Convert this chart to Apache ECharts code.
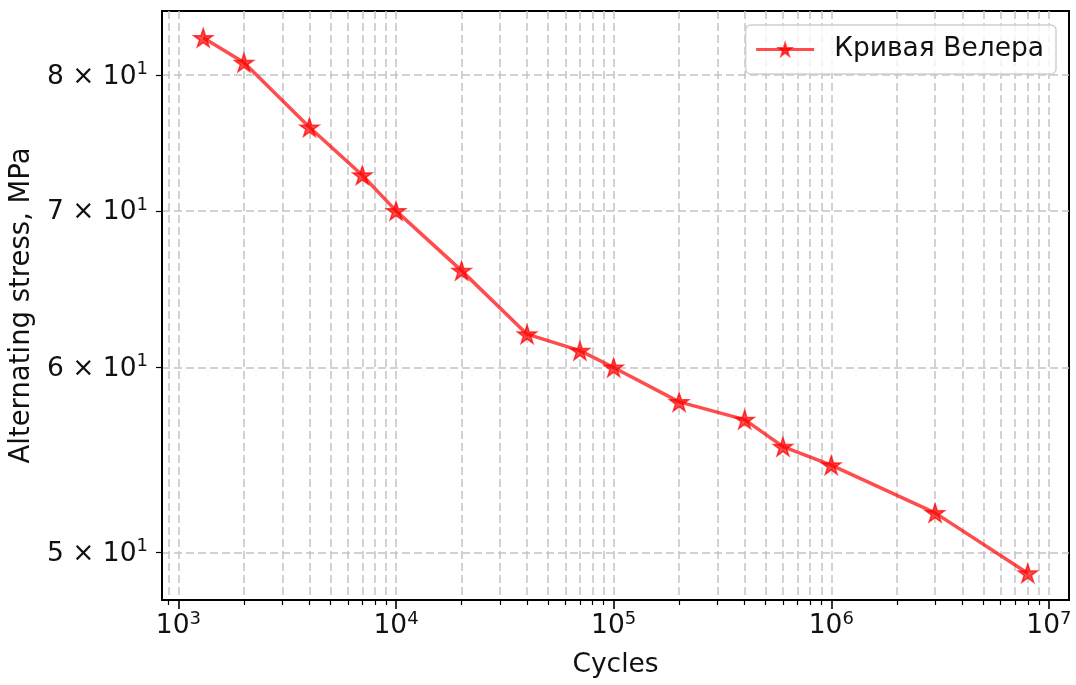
<!DOCTYPE html>
<html><head><meta charset="utf-8">
<script src="https://cdn.jsdelivr.net/npm/echarts@6/dist/echarts.min.js"></script>
<style>html,body{margin:0;padding:0;background:#fff}#c{width:1076px;height:685px}</style>
</head><body><div id="c"></div>
<script>
const cycles = [1300, 2000, 4000, 7000, 10000, 20000, 40000, 70000, 100000, 200000, 400000, 600000, 1000000, 3000000, 8000000];
const stress = [83, 81, 76, 72.5, 70, 66, 62, 61, 60, 58, 57, 55.5, 54.5, 52, 49];
const seriesName = 'Кривая Велера';
const xMajorTicks = [1e3, 1e4, 1e5, 1e6, 1e7];
const xMinorTicks = [900,
  2000, 3000, 4000, 5000, 6000, 7000, 8000, 9000,
  20000, 30000, 40000, 50000, 60000, 70000, 80000, 90000,
  200000, 300000, 400000, 500000, 600000, 700000, 800000, 900000,
  2000000, 3000000, 4000000, 5000000, 6000000, 7000000, 8000000, 9000000];
const yTicks = [50, 60, 70, 80];
const xTitle = 'Cycles';
const yTitle = 'Alternating stress, MPa';

function logPad(arr, frac) {
  const lo = Math.log10(Math.min(...arr)), hi = Math.log10(Math.max(...arr));
  const m = (hi - lo) * frac;
  return [Math.pow(10, lo - m), Math.pow(10, hi + m)];
}
const [xMin, xMax] = logPad(cycles, 0.05);
const [yMin, yMax] = logPad(stress, 0.05);

const FONT = 'DejaVu Sans';
const TXT = '#111';
const FS = 26.5;
const richSup = {
  b: { fontFamily: FONT, fontSize: FS, color: TXT, lineHeight: 30, verticalAlign: 'bottom' },
  s: { fontFamily: FONT, fontSize: 18, color: TXT, lineHeight: 18, verticalAlign: 'top' }
};
function xFmt(v) {
  const e = Math.round(Math.log10(v));
  return '{b|10}{s|' + e + '}';
}
function yFmt(v) {
  const e = Math.floor(Math.log10(v) + 1e-9);
  const m = Math.round(v / Math.pow(10, e));
  return '{b|' + m + ' \u00d7 10}{s|' + e + '}';
}
const gridLine = { show: true, lineStyle: { color: '#c4c4c4', width: 1.5, type: [8, 4] } };
const STAR = 'path://M0,-100 L22.45,-30.9 L95.1,-30.9 L36.33,11.8 L58.8,80.9 L0,38.2 L-58.8,80.9 L-36.33,11.8 L-95.1,-30.9 L-22.45,-30.9 Z';
const RED = 'rgba(255,0,0,0.7)';

const chart = echarts.init(document.getElementById('c'), null, { renderer: 'canvas' });
chart.setOption({
  backgroundColor: '#fff',
  animation: false,
  grid: { left: 162, top: 11, width: 907, height: 589, show: true, borderColor: '#000', borderWidth: 2, containLabel: false },
  legend: {
    data: [seriesName], right: 20, top: 25,
    padding: [11, 12, 11, 9], itemWidth: 58, itemHeight: 15, itemGap: 10,
    backgroundColor: 'rgba(255,255,255,0.8)', borderColor: '#d0d0d0', borderWidth: 1.5, borderRadius: 5,
    lineStyle: { width: 3, color: RED },
    textStyle: { fontFamily: FONT, fontSize: FS, color: TXT, padding: [0, 0, 0, 15] }
  },
  xAxis: [{
    type: 'log', logBase: 10, min: xMin, max: xMax, position: 'bottom',
    axisLine: { show: true, onZero: false, lineStyle: { color: '#000', width: 2 } },
    axisTick: { show: true, customValues: xMajorTicks, length: 9, lineStyle: { color: '#000', width: 1.6 } },
    axisLabel: { show: true, customValues: xMajorTicks, formatter: xFmt, rich: richSup, margin: 10 },
    splitLine: gridLine,
    minorTick: { show: false }, minorSplitLine: { show: false },
    name: xTitle, nameLocation: 'middle', nameGap: 52,
    nameTextStyle: { fontFamily: FONT, fontSize: FS, color: TXT }
  }, {
    type: 'log', logBase: 10, min: xMin, max: xMax, position: 'bottom', gridIndex: 0,
    axisLine: { show: false },
    axisTick: { show: true, customValues: xMinorTicks, length: 5, lineStyle: { color: '#000', width: 1.2 } },
    axisLabel: { show: false },
    splitLine: gridLine
  }],
  yAxis: [{
    type: 'log', logBase: 10, min: yMin, max: yMax, position: 'left',
    axisLine: { show: true, onZero: false, lineStyle: { color: '#000', width: 2 } },
    axisTick: { show: true, customValues: yTicks, length: 6, lineStyle: { color: '#000', width: 1.2 } },
    axisLabel: { show: true, customValues: yTicks, formatter: yFmt, rich: richSup, margin: 14 },
    splitLine: gridLine,
    name: yTitle, nameLocation: 'middle', nameGap: 120, nameRotate: 90,
    nameTextStyle: { fontFamily: FONT, fontSize: 27.5, color: TXT }
  }],
  series: [{
    name: seriesName, type: 'line', xAxisIndex: 0, yAxisIndex: 0,
    data: cycles.map((c, i) => [c, stress[i]]),
    symbol: STAR, symbolSize: 19, symbolKeepAspect: true, showAllSymbol: true,
    lineStyle: { color: RED, width: 3.5 },
    itemStyle: { color: RED, borderColor: RED, borderWidth: 1.5 },
    emphasis: { disabled: true }
  }]
});
</script></body></html>
